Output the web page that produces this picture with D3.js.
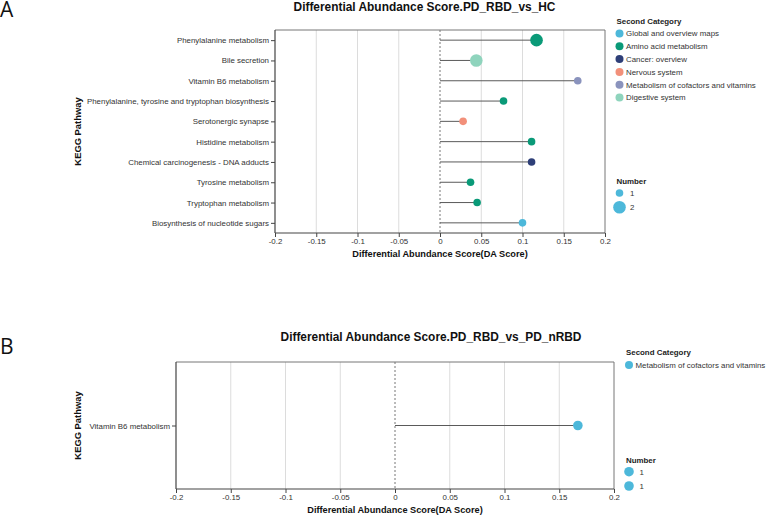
<!DOCTYPE html>
<html><head><meta charset="utf-8">
<script src="https://cdn.jsdelivr.net/npm/d3@7/dist/d3.min.js"></script>
<style>
body{margin:0;background:#fff;}
svg{font-family:"Liberation Sans",Arial,sans-serif;display:block;}
</style></head><body>
<svg id="c" width="768" height="515"></svg>
<script>
// ---------- Data ----------
const pathwaysA = ["Phenylalanine metabolism","Bile secretion","Vitamin B6 metabolism",
  "Phenylalanine, tyrosine and tryptophan biosynthesis","Serotonergic synapse","Histidine metabolism",
  "Chemical carcinogenesis - DNA adducts","Tyrosine metabolism","Tryptophan metabolism",
  "Biosynthesis of nucleotide sugars"];
const scoresA = [0.117,0.044,0.167,0.077,0.028,0.111,0.111,0.037,0.045,0.100];
const numbersA = [2,2,1,1,1,1,1,1,1,1];
const categoriesA = ["Amino acid metabolism","Digestive system","Metabolism of cofactors and vitamins",
  "Amino acid metabolism","Nervous system","Amino acid metabolism","Cancer: overview",
  "Amino acid metabolism","Amino acid metabolism","Global and overview maps"];
const legendCatsA = ["Global and overview maps","Amino acid metabolism","Cancer: overview",
  "Nervous system","Metabolism of cofactors and vitamins","Digestive system"];
const catColorsA = ["#4db8da","#0a9a78","#2e3f78","#f2907a","#8a93bd","#8fd4bd"];
const numLegendA = [1,2];

const pathwaysB = ["Vitamin B6 metabolism"];
const scoresB = [0.167];
const numbersB = [1];
const categoriesB = ["Metabolism of cofactors and vitamins"];
const legendCatsB = ["Metabolism of cofactors and vitamins"];
const catColorsB = ["#4db8da"];
const numLegendB = [1,1];

const xTicks = [-0.2,-0.15,-0.1,-0.05,0,0.05,0.1,0.15,0.2];
const xDomain = [-0.2,0.2];

const titleA = "Differential Abundance Score.PD_RBD_vs_HC";
const titleB = "Differential Abundance Score.PD_RBD_vs_PD_nRBD";
const xLabel = "Differential Abundance Score(DA Score)";
const yLabel = "KEGG Pathway";

// ---------- Drawing ----------
const svg = d3.select("#c");
const FS = "7.9px";

function panel(o){
  const g = svg.append("g");
  const x = d3.scaleLinear().domain(xDomain).range([o.left,o.right]);
  const y = d3.scalePoint().domain(o.paths).range([o.top,o.bottom]).padding(o.pad);
  const color = d3.scaleOrdinal().domain(o.legendCats).range(o.colors);
  const r = d3.scaleOrdinal().domain([1,2]).range(o.radii);

  // grid
  g.append("g").selectAll("line").data(xTicks.filter(t=>t!==0 && t!==xDomain[0] && t!==xDomain[1])).join("line")
    .attr("x1",d=>x(d)).attr("x2",d=>x(d)).attr("y1",o.top).attr("y2",o.bottom)
    .attr("stroke","#dcdcdc").attr("stroke-width",1);
  // frame top/right
  g.append("path").attr("d",`M${o.left},${o.top}H${o.right}V${o.bottom}`)
    .attr("fill","none").attr("stroke","#777").attr("stroke-width",1);
  // zero dashed
  g.append("line").attr("x1",x(0)).attr("x2",x(0)).attr("y1",o.top).attr("y2",o.bottom)
    .attr("stroke","#777").attr("stroke-dasharray","2,2").attr("stroke-width",1);

  // axes
  const xa = g.append("g").attr("transform",`translate(0,${o.bottom})`)
    .call(d3.axisBottom(x).tickValues(xTicks).tickFormat(d=>d===0?"0":String(d)).tickSizeOuter(0).tickSize(4));
  const ya = g.append("g").attr("transform",`translate(${o.left},0)`)
    .call(d3.axisLeft(y).tickSizeOuter(0).tickSize(4));
  [xa,ya].forEach(a=>{
    a.select(".domain").attr("stroke","#444").attr("stroke-width",1.2);
    a.selectAll(".tick line").attr("stroke","#444");
    a.selectAll(".tick text").attr("fill","#333").style("font-size",FS)
      .style("font-family","'Liberation Sans',Arial,sans-serif");
  });
  xa.selectAll(".tick text").attr("y",5).attr("dy","0.8em");
  ya.selectAll(".tick text").attr("x",-6);
  xa.select(".domain").attr("d",`M${o.left},0H${o.right}`);
  ya.select(".domain").attr("d",`M0,${o.top}V${o.bottom}`);

  // lollipops
  const data = o.paths.map((p,i)=>({p,s:o.scores[i],n:o.nums[i],c:o.cats[i]}));
  g.append("g").selectAll("line").data(data).join("line")
    .attr("x1",x(0)).attr("x2",d=>x(d.s)).attr("y1",d=>y(d.p)).attr("y2",d=>y(d.p))
    .attr("stroke","#5a5a5a").attr("stroke-width",1);
  g.append("g").selectAll("circle").data(data).join("circle")
    .attr("cx",d=>x(d.s)).attr("cy",d=>y(d.p)).attr("r",d=>r(d.n))
    .attr("fill",d=>color(d.c));

  // titles
  g.append("text").attr("x",o.titleX).attr("y",o.titleY).attr("text-anchor","middle")
    .style("font-size","11.9px").style("font-weight","bold").attr("fill","#111").text(o.title);
  g.append("text").attr("x",(o.left+o.right)/2).attr("y",o.xlabY).attr("text-anchor","middle")
    .style("font-size","9.2px").style("font-weight","bold").attr("fill","#111").text(xLabel);
  g.append("text").attr("transform",`translate(80.5,${(o.top+o.bottom)/2}) rotate(-90)`)
    .attr("text-anchor","middle").style("font-size","9.4px").style("font-weight","bold").attr("fill","#111").text(yLabel);
  g.append("text").attr("x",0).attr("y",o.letterY).style("font-size","21px")
    .style("font-family","'Open Sans','Liberation Sans',sans-serif").attr("fill","#111").text(o.letter);

  // legend category
  const L = g.append("g");
  L.append("text").attr("x",o.legX).attr("y",o.legY).style("font-size",FS).style("font-weight","bold")
    .attr("fill","#222").text("Second Category");
  o.legendCats.forEach((c,i)=>{
    const yy = o.legY+10+i*12.8;
    L.append("circle").attr("cx",o.legX+3).attr("cy",yy).attr("r",4).attr("fill",color(c));
    L.append("text").attr("x",o.legX+9.5).attr("y",yy+2.8).style("font-size",FS).attr("fill","#333").text(c);
  });
  L.append("text").attr("x",o.legX).attr("y",o.numY).style("font-size",FS).style("font-weight","bold")
    .attr("fill","#222").text("Number");
  o.numLeg.forEach((n,i)=>{
    const yy = o.numY+o.numOff[i];
    L.append("circle").attr("cx",o.legX+3).attr("cy",yy).attr("r",o.numR[i]).attr("fill","#4db8da");
    L.append("text").attr("x",o.legX+13.5).attr("y",yy+2.8).style("font-size",FS).attr("fill","#333").text(n);
  });
}

panel({paths:pathwaysA,scores:scoresA,nums:numbersA,cats:categoriesA,legendCats:legendCatsA,colors:catColorsA,
  left:275,right:605,top:30,bottom:233,pad:0.5,radii:[3.8,6.3],title:titleA,titleX:424.5,titleY:11,xlabY:257,
  letter:"A",letterY:17,legX:616.5,legY:23.5,numY:184,numLeg:numLegendA,numOff:[9,23.3],numR:[3.8,6.3]});
panel({paths:pathwaysB,scores:scoresB,nums:numbersB,cats:categoriesB,legendCats:legendCatsB,colors:catColorsB,
  left:176,right:614,top:362,bottom:489,pad:0.5,radii:[4.8,4.8],title:titleB,titleX:431,titleY:341,xlabY:513,
  letter:"B",letterY:354,legX:626,legY:355,numY:463,numLeg:numLegendB,numOff:[8.7,23],numR:[4.8,4.8]});
</script></body></html>
